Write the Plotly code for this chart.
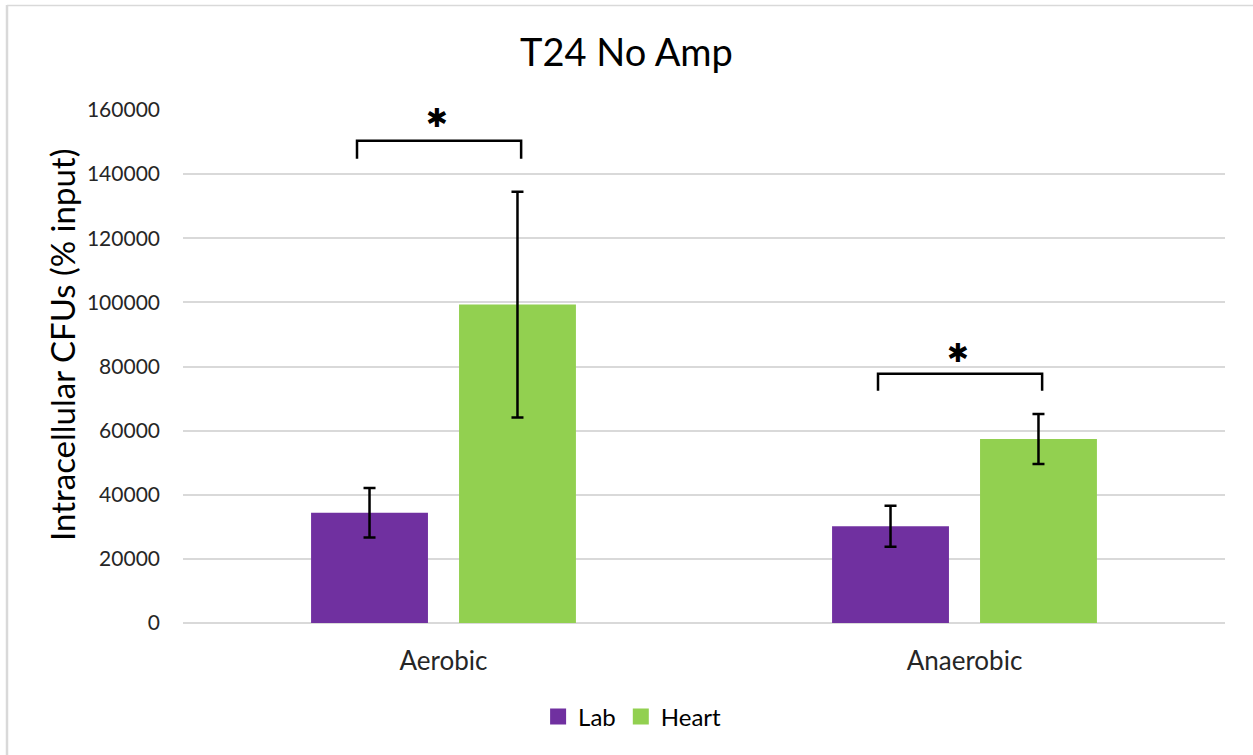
import plotly.graph_objects as go

categories = ["Aerobic", "Anaerobic"]
lab_values = [34400, 30200]
lab_errors = [7700, 6400]
heart_values = [99300, 57400]
heart_errors = [35200, 7800]
bracket_top = [150400, 77700]
bracket_bottom = [144800, 72400]
star_y = [157500, 84100]
y_ticks = [0, 20000, 40000, 60000, 80000, 100000, 120000, 140000, 160000]

LAB_COLOR = "#7030A0"
HEART_COLOR = "#92D050"
FONT = "Lato, 'Open Sans', sans-serif"
pos = list(range(len(categories)))

fig = go.Figure()
fig.add_trace(go.Bar(
    x=pos, y=lab_values, name="Lab", marker=dict(color=LAB_COLOR, line=dict(width=0)),
    error_y=dict(type="data", array=lab_errors, color="black", thickness=2.5, width=6),
    showlegend=False,
))
fig.add_trace(go.Bar(
    x=pos, y=heart_values, name="Heart", marker=dict(color=HEART_COLOR, line=dict(width=0)),
    error_y=dict(type="data", array=heart_errors, color="black", thickness=2.5, width=6),
    showlegend=False,
))
# legend entries with larger square swatches
for nm, col in [("Lab", LAB_COLOR), ("Heart", HEART_COLOR)]:
    fig.add_trace(go.Scatter(x=[None], y=[None], mode="markers", name=nm,
                             marker=dict(symbol="square", size=16, color=col)))

for i, p in enumerate(pos):
    xl, xr = p - 0.166, p + 0.149
    fig.add_trace(go.Scatter(
        x=[xl, xl, xr, xr], y=[bracket_bottom[i], bracket_top[i], bracket_top[i], bracket_bottom[i]],
        mode="lines", line=dict(color="black", width=2.5), showlegend=False, hoverinfo="skip",
    ))
    fig.add_annotation(x=p - 0.013, y=star_y[i], text="✱", showarrow=False,
                       font=dict(size=26, color="black", family="DejaVu Sans"),
                       xanchor="center", yanchor="middle")

fig.add_annotation(text="Intracellular CFUs (% input)", textangle=-90, showarrow=False,
                   xref="paper", yref="paper", x=(62 - 183) / 1042, y=(623 - 345) / 513,
                   xanchor="center", yanchor="middle",
                   font=dict(size=33, color="black", family=FONT))

fig.update_layout(
    width=1253, height=755,
    paper_bgcolor="white", plot_bgcolor="white",
    margin=dict(l=183, r=28, t=110, b=132),
    barmode="group", bargap=0.432, bargroupgap=0.21,
    font=dict(family=FONT, color="#262626"),
    title=dict(text="T24 No Amp", x=0.5, xanchor="center", y=1 - 53 / 755, yanchor="middle",
               font=dict(size=38, color="black", family=FONT)),
    xaxis=dict(range=[-0.5, 1.5], tickmode="array", tickvals=pos, ticktext=categories,
               showgrid=False, zeroline=False, showline=False, ticks="",
               tickfont=dict(size=26, color="#262626"), ticklabelstandoff=20),
    yaxis=dict(range=[0, 160000], tickmode="array", tickvals=y_ticks,
               ticktext=[str(v) for v in y_ticks],
               showgrid=True, gridcolor="#d9d9d9", gridwidth=1.5,
               zeroline=True, zerolinecolor="#d9d9d9", zerolinewidth=1.5,
               showline=False, ticks="",
               tickfont=dict(size=21, color="#262626"), ticklabelstandoff=22),
    legend=dict(orientation="h", x=0.431, xanchor="center", y=-0.183, yanchor="middle",
                font=dict(size=24, color="black"), traceorder="normal", itemwidth=30),
    shapes=[
        dict(type="line", xref="paper", yref="paper", x0=(7 - 183) / 1042, x1=(1253 - 183) / 1042,
             y0=(623 - 5.5) / 513, y1=(623 - 5.5) / 513, line=dict(color="#d9d9d9", width=1.5)),
        dict(type="line", xref="paper", yref="paper", x0=(7 - 183) / 1042, x1=(7 - 183) / 1042,
             y0=-132 / 513, y1=(623 - 5) / 513, line=dict(color="#d9d9d9", width=2.5)),
    ],
)

fig.write_html("out.html", config={"displayModeBar": False},
               post_script="document.body.style.margin='0';")
